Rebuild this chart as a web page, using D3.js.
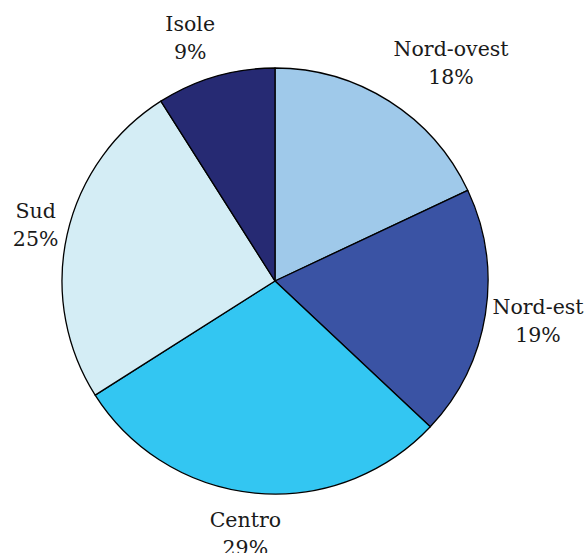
<!DOCTYPE html>
<html>
<head>
<meta charset="utf-8">
<script src="https://cdn.jsdelivr.net/npm/d3@7"></script>
<style>
  html, body { margin: 0; padding: 0; background: #ffffff; }
  svg { display: block; }
  text { font-family: "DejaVu Serif", serif; font-size: 20.5px; fill: #1a1a1a; }
</style>
</head>
<body>
<svg id="chart" width="586" height="553"></svg>
<script>
// Ripartizione per area geografica (quote percentuali)
const categories = ["Nord-ovest", "Nord-est", "Centro", "Sud", "Isole"];
const shares = [18, 19, 29, 25, 9];
const colors = ["#9fc9ea", "#3a53a4", "#33c6f2", "#d4edf5", "#262a73"];

const svg = d3.select("#chart");
const cx = 275, cy = 281, radius = 213;
const lineGap = 28, pad = 7;

const data = categories.map((c, i) => ({ name: c, value: shares[i], color: colors[i] }));

const pie = d3.pie().sort(null).value(d => d.value);
const arc = d3.arc().innerRadius(0).outerRadius(radius);

const g = svg.append("g").attr("transform", `translate(${cx},${cy})`);
const arcs = pie(data);

g.selectAll("path")
  .data(arcs)
  .join("path")
  .attr("d", arc)
  .attr("fill", d => d.data.color)
  .attr("stroke", "#000")
  .attr("stroke-width", 1.3)
  .attr("stroke-linejoin", "round");

// Labels sit just outside the rim, pushed out by the half-size of their own box
const nudge = {
  "Nord-ovest": [29, 16],
  "Isole": [-14, 3],
  "Centro": [-6, 5],
  "Nord-est": [-3, 0],
  "Sud": [3, 0]
};

const labels = g.selectAll("g.lbl")
  .data(arcs)
  .join("g")
  .attr("class", "lbl");

labels.append("text")
  .attr("text-anchor", "middle")
  .attr("y", -9)
  .text(d => d.data.name);

labels.append("text")
  .attr("text-anchor", "middle")
  .attr("y", -9 + lineGap)
  .text(d => d.data.value + "%");

labels.attr("transform", function(d) {
  const w = d3.max(d3.select(this).selectAll("text").nodes(), n => n.getComputedTextLength());
  const h = lineGap * 2;
  const a = (d.startAngle + d.endAngle) / 2;
  const s = Math.sin(a), c = -Math.cos(a);
  const dist = radius + pad + Math.abs(s) * w / 2 + Math.abs(c) * h / 2;
  const off = nudge[d.data.name] || [0, 0];
  return `translate(${s * dist + off[0]},${c * dist + off[1]})`;
});
</script>
</body>
</html>
